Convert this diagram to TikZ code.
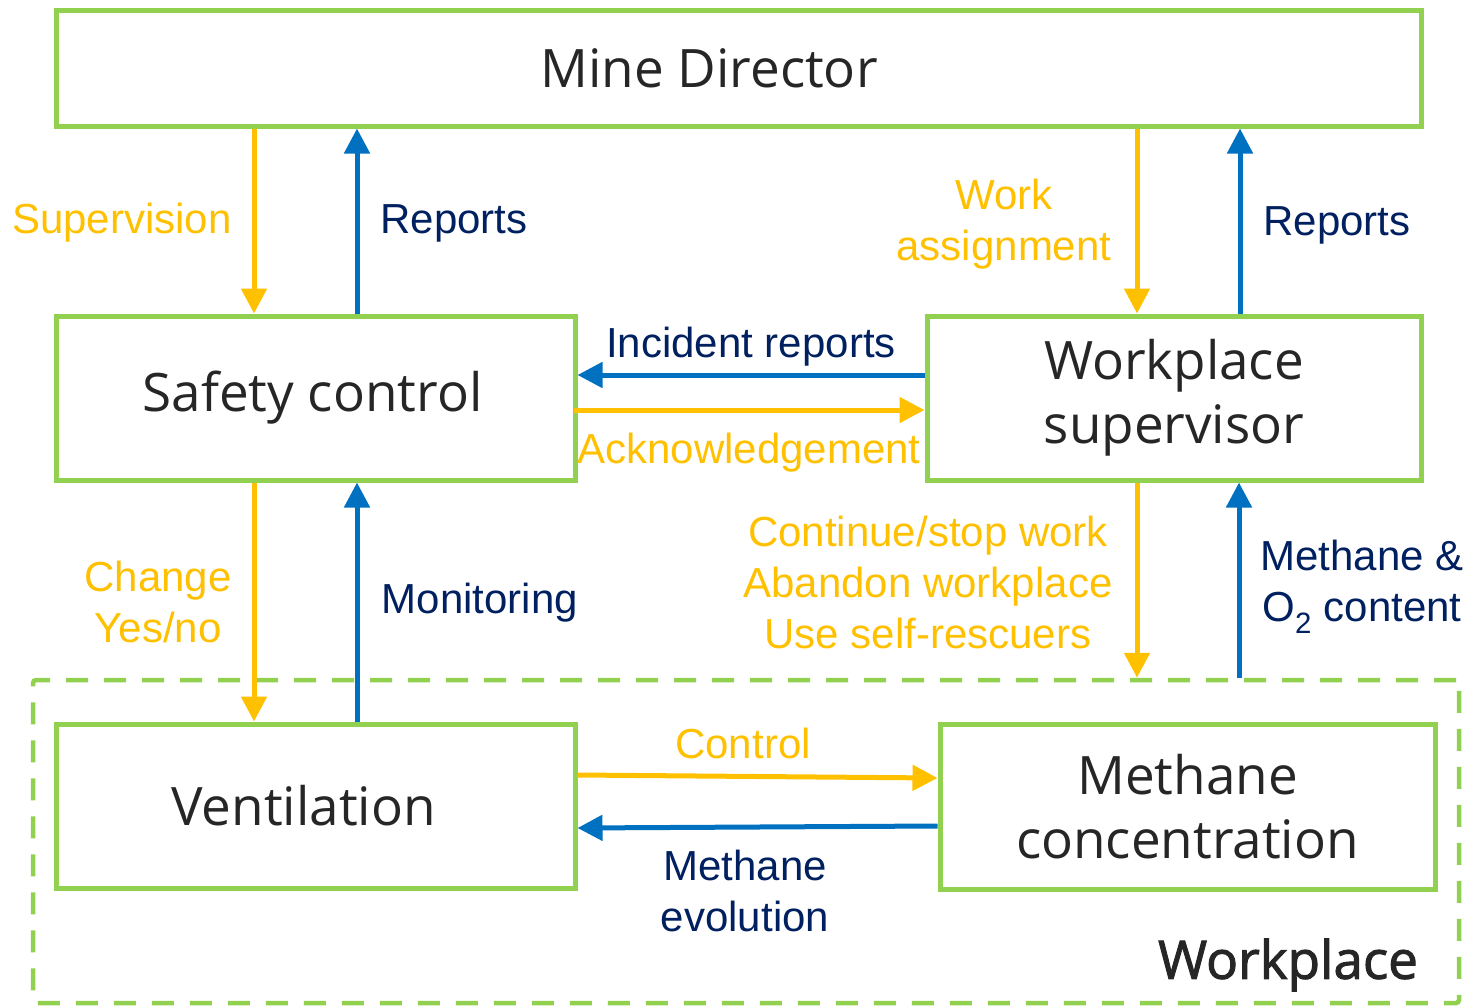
\documentclass[tikz,border=0pt]{standalone}
\usepackage{fontspec}
\setmainfont{Liberation Sans}
\newfontfamily\boxfont{Open Sans}
\newfontfamily\wpfont[FakeBold=1.8]{Open Sans}
\usetikzlibrary{arrows.meta}
\definecolor{yel}{HTML}{FFC000}
\definecolor{blu}{HTML}{0070C0}
\definecolor{navy}{HTML}{002060}
\definecolor{grn}{HTML}{92D050}
\definecolor{dark}{HTML}{262626}
\begin{document}
\begin{tikzpicture}[x=1pt,y=-1pt,
  box/.style={draw=grn, line width=5pt, rectangle, inner sep=0pt, align=center,
    text=dark, font=\boxfont\fontsize{53}{64}\selectfont},
  ya/.style={draw=yel, line width=5pt, -{Triangle[length=25pt,width=25pt]}},
  ba/.style={draw=blu, line width=5pt, -{Triangle[length=25pt,width=25pt]}},
  lbl/.style={inner sep=0pt, align=center, font=\fontsize{42}{51}\selectfont},
  ylbl/.style={lbl, text=yel},
  blbl/.style={lbl, text=navy}]
\useasboundingbox (0,0) rectangle (1475,1007);
% region
\node[draw=grn, line width=4.5pt, dash pattern=on 22pt off 16pt, rounded corners=3pt,
  minimum width=1426pt, minimum height=323pt, inner sep=0pt] (wp) at (746,841.5) {};
\node[text=dark, font=\wpfont\fontsize{53}{64}\selectfont, inner sep=0pt] (wplbl) at (1288,965) {Workplace};
% boxes
\node[box, minimum width=1365pt, minimum height=116pt] (md) at (738.5,68) {\hspace*{-59pt}Mine Director};
\node[box, minimum width=519pt, minimum height=164pt] (sc) at (315.5,398) {\hspace*{-6pt}Safety control};
\node[box, minimum width=494pt, minimum height=164pt] (ws) at (1174,398) {Workplace\\supervisor};
\node[box, minimum width=519pt, minimum height=164pt] (vent) at (315.5,806) {\hspace*{-24pt}Ventilation};
\node[box, minimum width=495pt, minimum height=165pt] (mc) at (1187.5,806.5) {Methane\\concentration};
% vertical arrows
\draw[ya] (md.south -| 254,0) -- (sc.north -| 254,0);
\draw[ba] (sc.north -| 357,0) -- (md.south -| 357,0);
\draw[ya] (md.south -| 1137,0) -- (ws.north -| 1137,0);
\draw[ba] (ws.north -| 1240,0) -- (md.south -| 1240,0);
\draw[ya] (sc.south -| 254,0) -- (vent.north -| 254,0);
\draw[ba] (vent.north -| 357,0) -- (sc.south -| 357,0);
\draw[ya] (ws.south -| 1137,0) -- (wp.north -| 1137,0);
\draw[ba] (wp.north -| 1239,0) -- (ws.south -| 1239,0);
% horizontal arrows
\draw[ba] (ws.west |- 0,375) -- (sc.east |- 0,375);
\draw[ya] ([xshift=-4pt]sc.east |- 0,410) -- (ws.west |- 0,410);
\draw[ya] (vent.east |- 0,775) -- (mc.west |- 0,778);
\draw[ba] (mc.west |- 0,826) -- (vent.east |- 0,828);
% labels
\node[ylbl] (l1) at (122,223) {Supervision};
\node[blbl] (l2) at (454,223) {Reports};
\node[ylbl] (l3) at (1004,224) {Work\\assignment};
\node[blbl] (l4) at (1337,225) {Reports};
\node[blbl] (l5) at (751,347) {Incident reports};
\node[ylbl] (l6) at (749,453) {Acknowledgement};
\node[ylbl] (l7) at (158,602) {Change\\Yes/no};
\node[blbl] (l8) at (480,603) {Monitoring};
\node[ylbl] (l9) at (928,582) {Continue/stop work\\Abandon workplace\\Use self-rescuers};
\node[blbl] (l10) at (1362,587) {Methane \&\\O\textsubscript{2} content};
\node[ylbl] (l11) at (743,743) {Control};
\node[blbl] (l12) at (745,891) {Methane\\evolution};
\end{tikzpicture}
\end{document}
